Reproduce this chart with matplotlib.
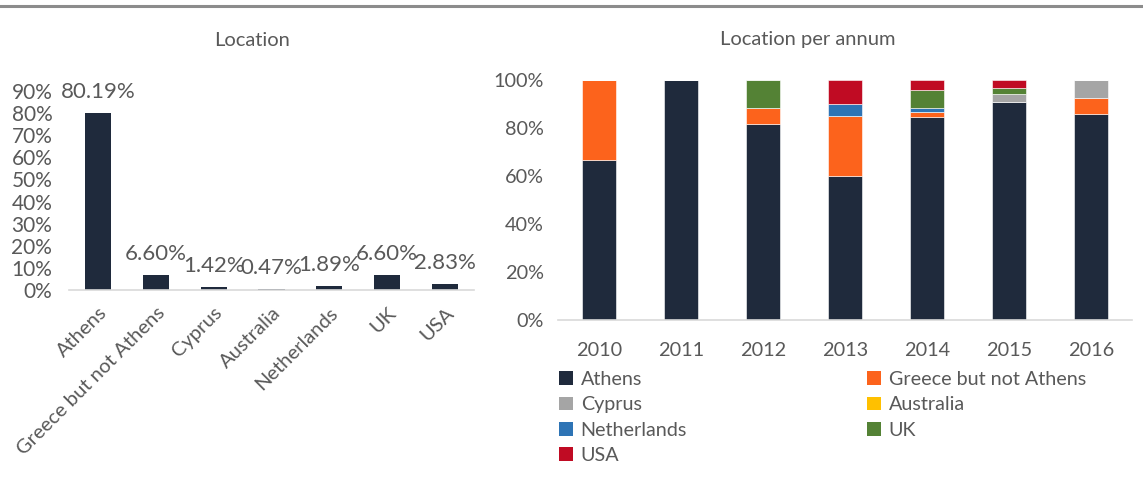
import matplotlib
matplotlib.use("Agg")
import matplotlib.pyplot as plt
from matplotlib.lines import Line2D
from matplotlib.patches import Patch
import numpy as np

plt.rcParams['font.family'] = ['Lato', 'DejaVu Sans']

# ---- data ----
locations = ["Athens", "Greece but not Athens", "Cyprus", "Australia", "Netherlands", "UK", "USA"]
location_share = [0.8019, 0.0660, 0.0142, 0.0047, 0.0189, 0.0660, 0.0283]
location_labels = ["80.19%", "6.60%", "1.42%", "0.47%", "1.89%", "6.60%", "2.83%"]

years = ["2010", "2011", "2012", "2013", "2014", "2015", "2016"]
athens      = [0.667, 1.000, 0.816, 0.600, 0.847, 0.907, 0.857]
greece      = [0.333, 0.000, 0.066, 0.250, 0.018, 0.000, 0.067]
cyprus      = [0.000, 0.000, 0.000, 0.000, 0.000, 0.035, 0.076]
australia   = [0.000, 0.000, 0.000, 0.000, 0.000, 0.000, 0.000]
netherlands = [0.000, 0.000, 0.000, 0.050, 0.017, 0.000, 0.000]
uk          = [0.000, 0.000, 0.118, 0.000, 0.075, 0.025, 0.000]
usa         = [0.000, 0.000, 0.000, 0.100, 0.043, 0.033, 0.000]

series = [athens, greece, cyprus, australia, netherlands, uk, usa]
colors = ["#1F2A3C", "#FC631C", "#A5A5A5", "#FFC000", "#2E74B5", "#548235", "#C00B23"]

txt = "#595959"
axis_col = "#D9D9D9"

W, H = 1143, 486
fig = plt.figure(figsize=(W / 100, H / 100), dpi=100)

# top rule
fig.add_artist(Line2D([0, 1], [1 - 6 / H, 1 - 6 / H], color="#8C8C8C", lw=2.2,
                      transform=fig.transFigure))

# ---- left chart ----
axL = fig.add_axes([69 / W, 1 - 290 / H, 405 / W, 199 / H])
x = np.arange(len(locations))
axL.bar(x, location_share, width=0.45, color=colors[0])
for xi, v, lab in zip(x, location_share, location_labels):
    axL.text(xi, v + 0.05, lab, ha="center", va="bottom", fontsize=16, color=txt)
axL.set_ylim(0, 0.9)
axL.set_xlim(-0.5, len(locations) - 0.5)
axL.set_yticks(np.arange(0, 0.91, 0.1))
axL.set_yticklabels([f"{int(round(t * 100))}%" for t in np.arange(0, 0.91, 0.1)])
axL.set_xticks(x)
axL.set_xticklabels(locations, rotation=45, ha="right", rotation_mode="anchor")
axL.tick_params(axis="both", length=0, labelsize=15, colors=txt)
axL.tick_params(axis="y", pad=12)
axL.tick_params(axis="x", pad=10, labelsize=14.5)
for s in ["top", "right", "left"]:
    axL.spines[s].set_visible(False)
axL.spines["bottom"].set_color(axis_col)
axL.spines["bottom"].set_linewidth(1.2)
fig.text(252 / W, 1 - 40 / H, "Location", ha="center", va="center", fontsize=14.5, color=txt)

# ---- right chart ----
axR = fig.add_axes([558 / W, 1 - 320 / H, 574 / W, 240 / H])
xr = np.arange(len(years))
bottom = np.zeros(len(years))
for vals, c, name in zip(series, colors, locations):
    axR.bar(xr, vals, bottom=bottom, width=0.42, color=c, edgecolor="white", linewidth=0.4, label=name)
    bottom += np.array(vals)
axR.set_ylim(0, 1.0)
axR.set_xlim(-0.5, len(years) - 0.5)
axR.set_yticks(np.arange(0, 1.01, 0.2))
axR.set_yticklabels([f"{int(round(t * 100))}%" for t in np.arange(0, 1.01, 0.2)])
axR.set_xticks(xr)
axR.set_xticklabels(years)
axR.tick_params(axis="both", length=0, labelsize=14.3, colors=txt)
axR.tick_params(axis="y", pad=10)
axR.tick_params(axis="x", pad=16)
for s in ["top", "right", "left"]:
    axR.spines[s].set_visible(False)
axR.spines["bottom"].set_color(axis_col)
axR.spines["bottom"].set_linewidth(1.2)
fig.text(808 / W, 1 - 40 / H, "Location per annum", ha="center", va="center", fontsize=14.5, color=txt)

# legend: row-major order in two columns
order = [0, 2, 4, 6, 1, 3, 5]
handles = [Patch(facecolor=colors[i]) for i in order]
labels = [locations[i] for i in order]
leg = fig.legend(handles, labels, ncol=2, loc="upper left",
                 bbox_to_anchor=(559 / W, 1 - 376 / H, (1086 - 559) / W, 0.01),
                 mode="expand", frameon=False, fontsize=14.2, labelcolor=txt,
                 handlelength=0.7, handleheight=0.7, handletextpad=0.4,
                 labelspacing=0.42, borderaxespad=0, borderpad=0)

fig.savefig("out.png", dpi=100)
